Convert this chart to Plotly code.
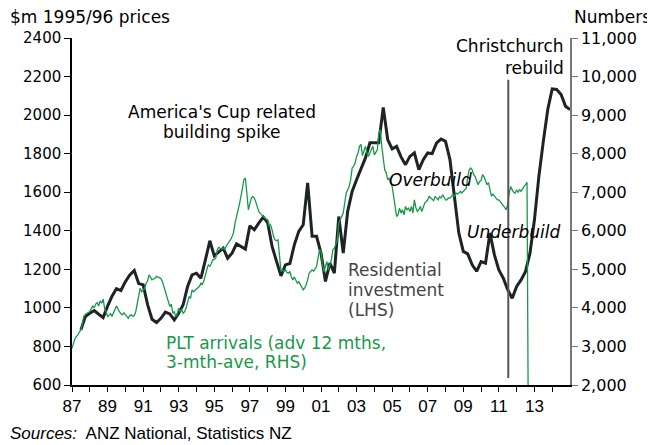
import plotly.graph_objects as go

# Residential investment, $m 1995/96 prices (LHS), quarterly from Jun 1987
res_inv = [
    886, 955, 972,
    986, 967, 950, 1009,
    1061, 1100, 1090, 1136,
    1171, 1194, 1126, 1120,
    1017, 941, 924, 946,
    978, 969, 938, 972,
    1016, 1111, 1171, 1180,
    1154, 1249, 1348, 1270,
    1292, 1310, 1258, 1284,
    1332, 1319, 1305, 1426,
    1405, 1440, 1471, 1443,
    1319, 1241, 1166, 1223,
    1230, 1327, 1397, 1431,
    1648, 1371, 1371, 1284,
    1137, 1232, 1180, 1474,
    1284, 1501, 1604, 1665,
    1717, 1778, 1856, 1856,
    1856, 2040, 1873, 1825,
    1838, 1783, 1743, 1786,
    1804, 1717, 1769, 1804,
    1800, 1856, 1876, 1864,
    1769, 1578, 1388, 1293,
    1280, 1223, 1190, 1240,
    1232, 1388, 1275, 1197,
    1154, 1093, 1050, 1111,
    1145, 1189, 1284, 1457,
    1682, 1864, 2029, 2136,
    2133, 2107, 2046, 2029,
]
res_inv_start = 1987.5

# PLT arrivals, numbers (RHS), monthly from Jan 1987
plt_arrivals = [
    2950, 3100, 3200, 3260, 3300, 3380, 3430, 3600, 3780, 3830, 3860, 3880,  # 1987
    3904, 3980, 4052, 4000, 4100, 4138, 4050, 4180, 4120, 4225, 3991, 3900,  # 1988
    3775, 3800, 3850, 3780, 3900, 3960, 4052, 3950, 3900, 3850, 3820, 3870,  # 1989
    3820, 3760, 3730, 3800, 3820, 3780, 3800, 3900, 4120, 4350, 4510, 4420,  # 1990
    4460, 4500, 4640, 4700, 4857, 4800, 4727, 4750, 4770, 4820, 4800, 4760,  # 1991
    4760, 4683, 4553, 4467, 4294, 4200, 4034, 4100, 3861, 3900, 3775, 3850,  # 1992
    3991, 3900, 3950, 3861, 3900, 4000, 4120, 4294, 4250, 4467, 4420, 4450,  # 1993
    4480, 4511, 4560, 4641, 4620, 4700, 4900, 5000, 5116, 5080, 5150, 5246,  # 1994
    5260, 5290, 5506, 5575, 5540, 5520, 5560, 5506, 5600, 5650, 5700, 5770,  # 1995
    5852, 5950, 6198, 6350, 6545, 6700, 6891, 7100, 7324, 7368, 6934, 6545,  # 1996
    6700, 6850, 6891, 6850, 6750, 6631, 6501, 6450, 6420, 6371, 6340, 6300,  # 1997
    6285, 6111, 6150, 6025, 5850, 5766, 5740, 5766, 5420, 4943, 4987, 4943,  # 1998
    4987, 4920, 4900, 4943, 4800, 4727, 4800, 4727, 4641, 4680, 4600, 4511,  # 1999
    4467, 4520, 4600, 4727, 4900, 4943, 4987, 4950, 5000, 5073, 5300, 5506,  # 2000
    5470, 5116, 4943, 5116, 5203, 4987, 5100, 5250, 5506, 5550, 5650, 5766,  # 2001
    6200, 6285, 6370, 6458, 6720, 6978, 7064, 7150, 7320, 7627, 7670, 7757,  # 2002
    7930, 8017, 8190, 8240, 7950, 8100, 8190, 8020, 7930, 8020, 8100, 8190,  # 2003
    7970, 8050, 8100, 8536, 8622, 8190, 7843, 7584, 7500, 7324, 7370, 7230,  # 2004
    7150, 6900, 6600, 6371, 6415, 6588, 6458, 6545, 6415, 6631, 6545, 6588,  # 2005
    6501, 6631, 6458, 6804, 6600, 6501, 6545, 6631, 6501, 6600, 6718, 6760,  # 2006
    6804, 6891, 6848, 6804, 6780, 6891, 6850, 6800, 6880, 6850, 6934, 6880,  # 2007
    6804, 6804, 6850, 6848, 6900, 6934, 6900, 6978, 6950, 7000, 7020, 6980,  # 2008
    7020, 7050, 7107, 7400, 7584, 7627, 7584, 7454, 7410, 7300, 7194, 7280,  # 2009
    7300, 7454, 7400, 7300, 7194, 7250, 7064, 6891, 6950, 6900, 6850, 6804,  # 2010
    6804, 6760, 6700, 6650, 6600, 6545, 6700, 6978, 7150, 7060, 7000, 6978,  # 2011
    7064, 7000, 7064, 7020, 7100, 7150, 7194, 7260, 0,                       # 2012
]
plt_start = 1987.0

years = list(range(1987, 2015))
year_labels = [f"{y % 100:02d}" if y % 2 == 1 else "" for y in years]

rebuild_year = 2011.53
rebuild_span = [636, 2184]

BLACK = "#1e2326"
GREEN = "#18994a"
FONT = "DejaVu Sans"
SANS = "Liberation Sans"

x_res = [res_inv_start + 0.25 * i for i in range(len(res_inv))]
x_plt = [plt_start + i / 12 for i in range(len(plt_arrivals))]

fig = go.Figure()

fig.add_trace(go.Scatter(
    x=x_plt, y=plt_arrivals, yaxis="y2", mode="lines",
    line=dict(color=GREEN, width=1.3), name="PLT arrivals",
))
fig.add_trace(go.Scatter(
    x=x_res, y=res_inv, mode="lines",
    line=dict(color=BLACK, width=3), name="Residential investment",
))

fig.add_shape(type="line", xref="x", yref="y",
              x0=rebuild_year, x1=rebuild_year,
              y0=rebuild_span[0], y1=rebuild_span[1],
              line=dict(color="#555555", width=2))


def note(x, y, text, color="black", anchor="center", **kw):
    fig.add_annotation(x=x, y=y, text=text, showarrow=False, xanchor=anchor,
                       yanchor="middle", font=dict(family=FONT, size=17, color=color), **kw)


# in-plot labels, one line each
note(1995.41, 2018, "America's Cup related")
note(1995.41, 1914, "building spike")
note(2014.79, 2356, "Christchurch", anchor="right")
note(2014.79, 2242, "rebuild", anchor="right")
note(2007.15, 1665, "<i>Overbuild</i>")
note(2011.84, 1395, "<i>Underbuild</i>")
note(2002.43, 1197, "Residential", color="#444444", anchor="left")
note(2002.43, 1094, "investment", color="#444444", anchor="left")
note(2002.43, 990, "(LHS)", color="#444444", anchor="left")
note(1992.16, 818, "PLT arrivals (adv 12 mths,", color=GREEN, anchor="left")
note(1992.16, 719, "3-mth-ave, RHS)", color=GREEN, anchor="left")

# axis titles and source line
note(-0.1285, 1.0605, "$m 1995/96 prices", anchor="left", xref="paper", yref="paper")
note(1.004, 1.0605, "Numbers", anchor="left", xref="paper", yref="paper")
fig.add_annotation(xref="paper", yref="paper", x=-0.1285, y=-0.141,
                   text="<i>Sources:</i>  ANZ National, Statistics NZ", showarrow=False,
                   xanchor="left", yanchor="middle",
                   font=dict(family=SANS, size=17, color="black"))

# page body has an 8px margin, so the figure is 8px smaller on each side
fig.update_layout(
    width=647, height=437,
    margin=dict(l=64, r=85, t=30, b=60),
    paper_bgcolor="white", plot_bgcolor="white",
    showlegend=False,
    xaxis=dict(
        range=[1987, 2015], tickmode="array", tickvals=years, ticktext=year_labels,
        ticks="outside", ticklen=5, tickcolor="black", showgrid=False, zeroline=False,
        showline=True, linecolor="black", linewidth=1.5,
        tickfont=dict(family=SANS, size=17, color="black"),
    ),
    yaxis=dict(
        range=[600, 2400], dtick=200, tickformat="d", ticks="outside", ticklen=6,
        tickcolor="black", showgrid=False, zeroline=False,
        showline=True, linecolor="black", linewidth=1.5,
        tickfont=dict(family=FONT, size=15, color="black"),
    ),
    yaxis2=dict(
        range=[2000, 11000], dtick=1000, tickformat=",d", overlaying="y", side="right",
        ticks="outside", ticklen=6, tickcolor="#777777", showgrid=False, zeroline=False,
        showline=True, linecolor="#777777", linewidth=1.5,
        tickfont=dict(family=FONT, size=16, color="black"),
    ),
)

fig.write_html("out.html")
